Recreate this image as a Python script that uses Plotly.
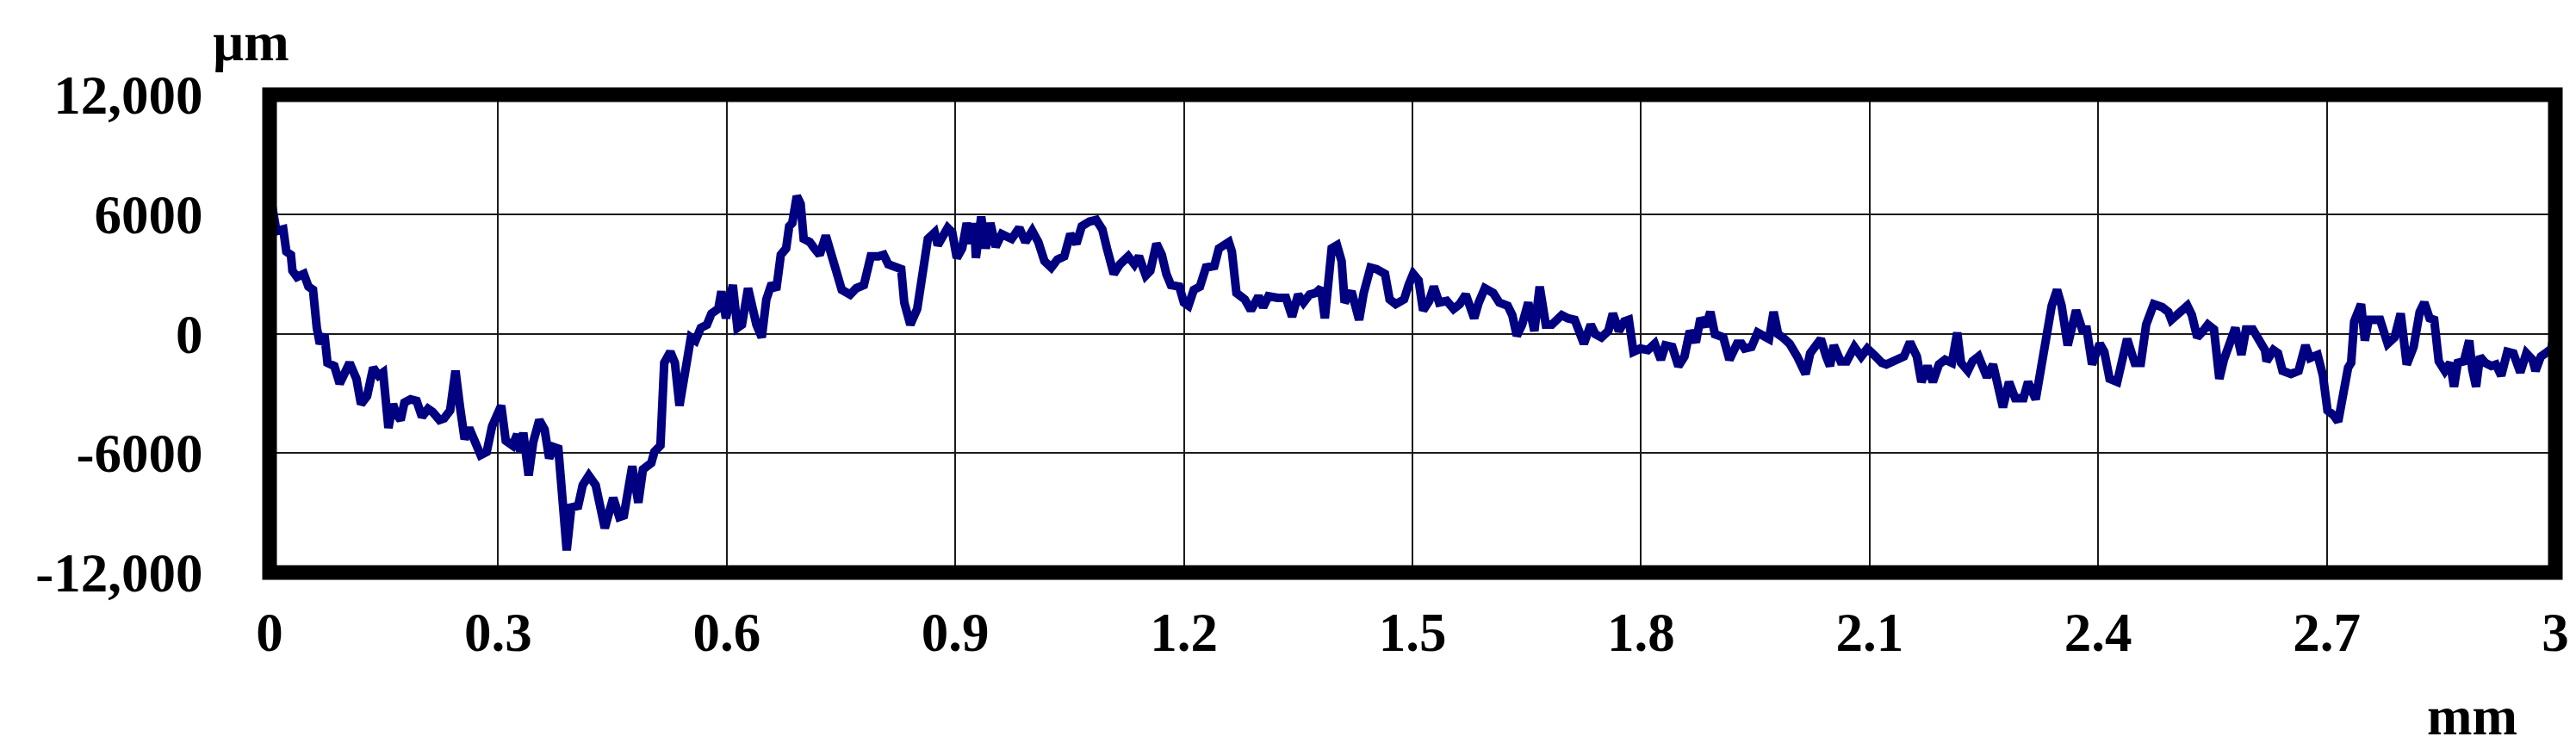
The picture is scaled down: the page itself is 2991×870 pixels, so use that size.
import plotly.graph_objects as go

# Profile data (x in mm, height in µm)
x_mm = [
    0.000, 0.005, 0.009, 0.018, 0.022, 0.028, 0.030, 0.036, 0.045, 0.051,
    0.057, 0.062, 0.066, 0.072, 0.076, 0.085, 0.092, 0.097, 0.105, 0.114,
    0.120, 0.128, 0.136, 0.143, 0.149, 0.156, 0.162, 0.166, 0.172, 0.177,
    0.185, 0.193, 0.200, 0.208, 0.214, 0.223, 0.229, 0.237, 0.244, 0.250,
    0.256, 0.262, 0.269, 0.277, 0.285, 0.292, 0.304, 0.310, 0.319, 0.325,
    0.329, 0.333, 0.340, 0.346, 0.354, 0.361, 0.367, 0.373, 0.379, 0.390,
    0.396, 0.405, 0.411, 0.419, 0.428, 0.440, 0.451, 0.459, 0.465, 0.476,
    0.484, 0.490, 0.501, 0.505, 0.513, 0.518, 0.526, 0.532, 0.538, 0.545,
    0.553, 0.559, 0.566, 0.574, 0.580, 0.589, 0.593, 0.599, 0.608, 0.614,
    0.620, 0.628, 0.639,
    0.646, 0.652, 0.659, 0.665, 0.671, 0.678, 0.682, 0.686, 0.692, 0.697,
    0.701, 0.709, 0.715, 0.722, 0.730, 0.736, 0.747, 0.751, 0.762, 0.770,
    0.780, 0.789, 0.799, 0.806, 0.812, 0.822, 0.829, 0.833, 0.841, 0.850,
    0.856, 0.864, 0.873, 0.877, 0.890, 0.896, 0.902, 0.909, 0.915, 0.921,
    0.925, 0.927, 0.934, 0.940, 0.946, 0.953, 0.961, 0.974, 0.984, 0.992,
    1.001, 1.009, 1.017, 1.026, 1.034, 1.043, 1.051, 1.059, 1.066, 1.076,
    1.085, 1.093, 1.099, 1.108, 1.116, 1.127, 1.135, 1.141, 1.150, 1.156,
    1.164, 1.171, 1.177, 1.183, 1.194, 1.200, 1.206, 1.213, 1.221, 1.229,
    1.240, 1.246, 1.259, 1.263, 1.269, 1.280,
    1.288, 1.294, 1.298, 1.304, 1.311, 1.323, 1.334, 1.342, 1.350, 1.357,
    1.365, 1.373, 1.380, 1.385, 1.390, 1.394, 1.401, 1.407, 1.411, 1.420,
    1.430, 1.436, 1.445, 1.453, 1.464, 1.470, 1.478, 1.489, 1.495, 1.501,
    1.508, 1.514, 1.522, 1.528, 1.535, 1.545, 1.554, 1.562, 1.570, 1.581,
    1.587, 1.595, 1.606, 1.614, 1.625, 1.631, 1.637, 1.644, 1.652, 1.660,
    1.667, 1.675, 1.683, 1.696, 1.704, 1.713, 1.725, 1.734, 1.740, 1.748,
    1.757, 1.763, 1.771, 1.778, 1.784, 1.790, 1.799, 1.809, 1.818, 1.826,
    1.832, 1.841, 1.849, 1.857, 1.864, 1.872, 1.878, 1.885, 1.891, 1.897,
    1.908, 1.916,
    1.926, 1.932, 1.936, 1.945, 1.953, 1.961, 1.968, 1.974, 1.980, 1.986,
    1.995, 2.005, 2.016, 2.022, 2.028, 2.036, 2.043, 2.048, 2.053, 2.062,
    2.070, 2.080, 2.089, 2.097, 2.108, 2.116, 2.122, 2.133, 2.145, 2.153,
    2.162, 2.168, 2.176, 2.183, 2.191, 2.199, 2.208, 2.215, 2.220, 2.229,
    2.235, 2.243, 2.254, 2.262, 2.268, 2.275, 2.283, 2.291, 2.302, 2.308,
    2.318, 2.327, 2.333, 2.339, 2.346, 2.352, 2.360, 2.371, 2.379, 2.385,
    2.392, 2.402, 2.408, 2.415, 2.425, 2.431, 2.438, 2.448, 2.456, 2.463,
    2.473, 2.484, 2.492, 2.496, 2.506, 2.517,
    2.523, 2.530, 2.536, 2.544, 2.552, 2.559, 2.565, 2.573, 2.580, 2.588,
    2.594, 2.603, 2.611, 2.619, 2.621, 2.630, 2.636, 2.642, 2.653, 2.663,
    2.672, 2.678, 2.688, 2.695, 2.701, 2.709, 2.715, 2.722, 2.728, 2.732,
    2.736, 2.745, 2.750, 2.755, 2.770, 2.780, 2.789, 2.797, 2.805, 2.814,
    2.822, 2.828, 2.835, 2.841, 2.847, 2.855, 2.862, 2.867, 2.872, 2.880,
    2.887, 2.891, 2.896, 2.901, 2.908, 2.916, 2.922, 2.929, 2.937, 2.945,
    2.954, 2.962, 2.970, 2.974, 2.981, 2.987, 2.995, 3.000,
]

height_um = [
    7150, 5870, 5150, 5240, 4120, 3960, 3160, 2840, 3000, 2360,
    2200, 290, -510, -30, -1470, -1630, -2510, -2110, -1470, -2270,
    -3540, -3140, -1710, -2110, -1950, -4740, -3540, -4020, -4340, -3460,
    -3300, -3380, -4180, -3780, -3940, -4340, -4260, -3860, -1870, -3700,
    -5300, -4740, -5460, -6100, -5940, -4660, -3620, -5380, -5620, -5060,
    -5940, -4980, -7130, -5460, -4340, -4820, -6260, -5700, -5780, -10890,
    -8730, -8650, -7610, -7130, -7610, -9770, -8250, -9210, -9130, -6660,
    -8490, -6820, -6500, -5940, -5620, -1470, -910, -1470, -3620, -1790,
    -190, -350, 290, 450, 1010, 1250, 2120, 770, 2440, 290,
    450, 2280, 450,
    -190, 1720, 2520, 2200, 3960, 4280, 5390, 5550, 6910, 6510,
    4760, 4600, 4280, 3960, 4920, 4120, 2680, 2200, 1960, 2280,
    2440, 3880, 3880, 3960, 3480, 3320, 3240, 1560, 450, 1240,
    2680, 4760, 5080, 4440, 5310, 5080, 3800, 4280, 5550, 4520,
    5550, 3800, 5870, 4280, 5550, 4360, 5000, 4760, 5310, 4600,
    5160, 4600, 3640, 3320, 3720, 3880, 5000, 4520, 5390, 5630,
    5710, 5230, 4280, 3000, 3480, 3880, 3480, 3880, 2920, 3160,
    4520, 3960, 3000, 2440, 2360, 1560, 1400, 2200, 2360, 3320,
    3400, 4280, 4600, 4120, 2040, 1720,
    1170, 1720, 1880, 1330, 1880, 1800, 1800, 850, 1960, 1560,
    1960, 2040, 2280, 770, 3320, 4280, 4440, 3640, 1560, 2120,
    690, 2040, 3320, 3240, 3000, 1720, 1480, 1720, 2440, 3000,
    2680, 1170, 1640, 2360, 1560, 1640, 1240, 1480, 1960, 770,
    1560, 2280, 2040, 1560, 1400, 930, -110, 450, 1560, 130,
    2360, 450, 450, 930, 770, 690, -510, 450, -30, -190,
    130, 1010, 130, 610, 690, -910, -750, -830, -510, -1310,
    -590, -670, -1630, -1150, 130, -430, 770, 370, 1090, -30,
    -190, -1310,
    -510, -510, -750, -670, 50, -190, -270, 1090, -30, -190,
    -510, -1150, -2030, -990, -670, -270, -1150, -1630, -590, -1390,
    -1390, -670, -1150, -750, -1150, -1470, -1550, -1390, -1150, -430,
    -1150, -2430, -1630, -2430, -1550, -1310, -1470, 50, -1470, -1870,
    -1390, -1150, -2190, -1550, -2750, -3700, -2430, -3240, -3240, -2430,
    -3300, -1310, 130, 1400, 2200, 1400, -590, 1170, 210, 210,
    -1550, -510, -910, -2270, -2430, -1390, -270, -1470, -1470, 450,
    1480, 1330, 1090, 690, 1090, 1400,
    930, -190, 50, 450, 210, -2270, -1310, -510, 290, -1070,
    210, 210, -350, -830, -1390, -830, -990, -1870, -2030, -1870,
    -590, -1230, -1070, -2110, -3860, -4100, -4420, -2910, -1710, -1470,
    610, 1480, -350, 690, 690, -510, -190, 1010, -1550, -670,
    1090, 1560, 770, 690, -1390, -1870, -1470, -2670, -1470, -1390,
    -350, -1790, -2670, -1150, -1470, -1630, -1550, -2110, -910, -990,
    -1950, -990, -1310, -1870, -1150, -990, -750, 370,
]

x_tick_vals = [0, 0.3, 0.6, 0.9, 1.2, 1.5, 1.8, 2.1, 2.4, 2.7, 3.0]
x_tick_text = ["0", "0.3", "0.6", "0.9", "1.2", "1.5", "1.8", "2.1", "2.4", "2.7", "3"]
y_tick_vals = [-12000, -6000, 0, 6000, 12000]
y_tick_text = ["-12,000", "-6000", "0", "6000", "12,000"]

FONT = "Liberation Serif"
TICK_FONT = dict(family=FONT, size=63, color="black", weight="bold")

fig = go.Figure()
fig.add_trace(go.Scatter(
    x=x_mm, y=height_um, mode="lines",
    line=dict(color="#000080", width=10, shape="linear"),
    showlegend=False, hoverinfo="skip",
))

fig.update_layout(
    width=2991, height=870,
    margin=dict(l=305, r=32, t=102, b=213, pad=0),
    paper_bgcolor="white", plot_bgcolor="white",
    xaxis=dict(
        range=[0, 3], tickvals=x_tick_vals, ticktext=x_tick_text,
        showgrid=True, gridcolor="#1a1a1a", gridwidth=2,
        zeroline=False, showline=False, automargin=False,
        ticks="outside", ticklen=14, tickcolor="rgba(0,0,0,0)",
        tickfont=TICK_FONT,
    ),
    yaxis=dict(
        range=[-12000, 12000], tickvals=y_tick_vals, ticktext=y_tick_text,
        showgrid=True, gridcolor="#1a1a1a", gridwidth=2,
        zeroline=False, showline=False, automargin=False,
        ticks="outside", ticklen=64, tickcolor="rgba(0,0,0,0)",
        tickfont=TICK_FONT,
    ),
    shapes=[dict(
        type="rect", xref="paper", yref="paper", x0=0, y0=0, x1=1, y1=1,
        line=dict(color="black", width=17), layer="above",
    )],
    annotations=[
        dict(text="µm", xref="paper", yref="paper", x=-0.0081, y=1.176,
             xanchor="center", yanchor="top", showarrow=False,
             font=TICK_FONT),
        dict(text="mm", xref="paper", yref="paper", x=0.9635, y=-0.30,
             xanchor="center", yanchor="middle", showarrow=False,
             font=TICK_FONT),
    ],
)

fig.write_html("out.html")
